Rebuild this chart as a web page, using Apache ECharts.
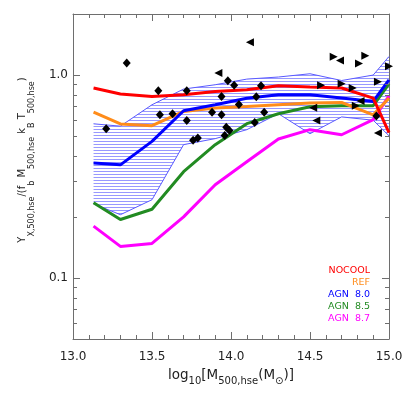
<!DOCTYPE html>
<html>
<head>
<meta charset="utf-8">
<script src="https://cdn.jsdelivr.net/npm/echarts@6/dist/echarts.min.js"></script>
<style>
  html, body { margin: 0; padding: 0; background: #fff; }
  #main { width: 407px; height: 398px; }
</style>
</head>
<body>
<div id="main"></div>
<script>
  // median mass bins (log10 M500)
  const massBins = [13.13, 13.3, 13.5, 13.7, 13.9, 14.1, 14.3, 14.5, 14.7, 14.9, 15.0]
  const nocool = [0.863, 0.806, 0.785, 0.80, 0.83, 0.847, 0.885, 0.873, 0.863, 0.77, 0.52]
  const ref = [0.657, 0.574, 0.563, 0.662, 0.688, 0.70, 0.714, 0.728, 0.733, 0.637, 0.77]
  const agn80 = [0.369, 0.361, 0.471, 0.667, 0.714, 0.769, 0.80, 0.80, 0.77, 0.741, 0.948]
  const agn85 = [0.235, 0.194, 0.218, 0.334, 0.454, 0.576, 0.645, 0.698, 0.706, 0.706, 0.906]
  const agn87 = [0.18, 0.143, 0.148, 0.20, 0.288, 0.374, 0.484, 0.538, 0.508, 0.603, 0.79]
  // scatter band of AGN 8.0
  const bandHi = [0.575, 0.56, 0.714, 0.853, 0.896, 0.955, 0.978, 1.015, 0.94, 1.0, 1.235]
  const bandLo = [0.232, 0.205, 0.243, 0.454, 0.486, 0.538, 0.645, 0.514, 0.622, 0.599, 0.502]

  // observed clusters
  const diamondMass = [13.21, 13.34, 13.54, 13.55, 13.63, 13.72, 13.72, 13.76, 13.79, 13.88, 13.94, 13.94,
    13.97, 13.99, 13.96, 13.98, 14.02, 14.05, 14.19, 14.16, 14.21, 14.15, 14.92]
  const diamondY = [0.544, 1.146, 0.837, 0.637, 0.645, 0.837, 0.597, 0.477, 0.49, 0.656, 0.785, 0.637,
    0.553, 0.533, 0.504, 0.937, 0.891, 0.717, 0.886, 0.782, 0.656, 0.584, 0.628]
  const rightTriMass = [14.65, 14.81, 14.85, 15.0, 14.57, 14.70, 14.77, 14.93, 14.79]
  const rightTriY = [1.231, 1.14, 1.245, 1.105, 0.891, 0.906, 0.863, 0.927, 0.706]
  const leftTriMass = [13.92, 14.12, 14.69, 14.52, 14.82, 14.54, 14.93]
  const leftTriY = [1.023, 1.45, 1.18, 0.69, 0.745, 0.597, 0.518]

  const xTicks = [13.0, 13.5, 14.0, 14.5, 15.0]
  const yMinorTicks = [0.06, 0.07, 0.08, 0.09, 0.2, 0.3, 0.4, 0.5, 0.6, 0.7, 0.8, 0.9]

  const legendNames = ['NOCOOL', 'REF', 'AGN  8.0', 'AGN  8.5', 'AGN  8.7']
  const legendColors = ['#ff0000', '#ff8c1a', '#0000ff', '#228b22', '#ff00ff']

  const axisColor = '#6e6e6e'
  const textColor = '#222'
  const fontFamily = 'DejaVu Sans'

  // horizontal hatch pattern
  const hatch = document.createElement('canvas')
  hatch.width = 4
  hatch.height = 3
  const hctx = hatch.getContext('2d')
  hctx.fillStyle = '#9898ff'
  hctx.fillRect(0, 0, 4, 1)

  const pairs = (xs, ys) => xs.map((x, i) => [x, ys[i]])

  const xAxisBase = (position, show) => ({
    type: 'value',
    position: position,
    min: xTicks[0],
    max: xTicks[xTicks.length - 1],
    interval: 0.5,
    axisLine: { show: true, onZero: false, lineStyle: { color: axisColor, width: 1 } },
    axisTick: { show: true, inside: true, length: 7, lineStyle: { color: axisColor } },
    minorTick: { show: true, splitNumber: 5, length: 4, lineStyle: { color: axisColor } },
    splitLine: { show: false },
    axisLabel: {
      show: show,
      margin: 12,
      fontSize: 12,
      fontFamily: fontFamily,
      color: textColor,
      formatter: v => v.toFixed(1)
    }
  })

  const yAxisBase = (position, show) => ({
    type: 'log',
    logBase: 10,
    position: position,
    min: 0.05,
    max: 2,
    axisLine: { show: true, onZero: false, lineStyle: { color: axisColor, width: 1 } },
    axisTick: { show: true, inside: true, length: 7, lineStyle: { color: axisColor } },
    splitLine: { show: false },
    axisLabel: {
      show: show,
      margin: 5,
      fontSize: 12,
      fontFamily: fontFamily,
      color: textColor,
      showMinLabel: false,
      showMaxLabel: false,
      formatter: v => v.toFixed(1)
    }
  })

  const modelLine = (name, values, color) => ({
    name: name,
    type: 'line',
    data: pairs(massBins, values),
    symbol: 'none',
    lineStyle: { color: color, width: 3 },
    z: 3
  })

  const outline = (values) => ({
    type: 'line',
    data: pairs(massBins, values),
    symbol: 'none',
    silent: true,
    lineStyle: { color: '#5a5aff', width: 1 },
    z: 2
  })

  const obsPoints = (xs, ys, symbol, size, rotate) => ({
    type: 'scatter',
    data: pairs(xs, ys),
    symbol: symbol,
    symbolSize: size,
    symbolRotate: rotate,
    itemStyle: { color: '#000', opacity: 1 },
    z: 5
  })

  const myChart = echarts.init(document.getElementById('main'), null, { renderer: 'canvas' })

  const option = {
    animation: false,
    backgroundColor: '#fff',
    grid: { left: 73, right: 18, top: 14, bottom: 59, containLabel: false },
    xAxis: [xAxisBase('bottom', true), xAxisBase('top', false)],
    yAxis: [yAxisBase('left', true), yAxisBase('right', false)],
    graphic: [
      {
        type: 'text',
        x: 231,
        y: 377.6,
        silent: true,
        style: {
          text: '{m|log}{s|10}{m|[M}{s|500,hse}{m|(M}{s|\u2299}{m|)]}',
          align: 'center',
          verticalAlign: 'middle',
          textAlign: 'center',
          textVerticalAlign: 'middle',
          fill: textColor,
          rich: {
            m: { fontSize: 13.5, fontFamily: fontFamily, lineHeight: 18, verticalAlign: 'top', fill: textColor, color: textColor },
            s: { fontSize: 10, fontFamily: fontFamily, lineHeight: 10, padding: [8, 0, 0, 0], verticalAlign: 'top', fill: textColor, color: textColor }
          }
        }
      },
      {
        type: 'text',
        x: 24.5,
        y: 160,
        rotation: Math.PI / 2,
        silent: true,
        style: {
          text: '{m|Y}{s|X,500,hse}{m|/(f}{s|b}{m| M}{s|500,hse}{m| k}{s|B}{m| T}{s|500,hse}{m|)}',
          align: 'center',
          verticalAlign: 'middle',
          textAlign: 'center',
          textVerticalAlign: 'middle',
          fill: textColor,
          rich: {
            m: { fontSize: 10, fontFamily: fontFamily, lineHeight: 14, verticalAlign: 'top', fill: textColor, color: textColor },
            s: { fontSize: 8, fontFamily: fontFamily, lineHeight: 8, padding: [10, 0, 0, 0], verticalAlign: 'top', fill: textColor, color: textColor }
          }
        }
      }
    ].concat(legendNames.map((n, i) => ({
      type: 'text',
      x: 370,
      y: 271 + i * 11.8,
      silent: true,
      style: {
        text: n,
        fill: legendColors[i],
        fontSize: 9.5,
        fontFamily: fontFamily,
        align: 'right',
        verticalAlign: 'middle',
        textAlign: 'right',
        textVerticalAlign: 'middle'
      }
    }))),
    series: [
      {
        // hatched range
        type: 'custom',
        silent: true,
        z: 1,
        data: massBins.map((m, i) => [m, bandLo[i], bandHi[i]]),
        encode: { x: 0, y: [1, 2] },
        renderItem: (params, api) => {
          if (params.dataIndex !== 0) return
          const top = massBins.map((m, i) => api.coord([m, bandHi[i]]))
          const bot = massBins.map((m, i) => api.coord([m, bandLo[i]])).reverse()
          return {
            type: 'polygon',
            shape: { points: top.concat(bot) },
            style: { fill: { image: hatch, repeat: 'repeat' }, stroke: null }
          }
        }
      },
      outline(bandHi),
      outline(bandLo),
      modelLine('AGN 8.7', agn87, legendColors[4]),
      modelLine('AGN 8.5', agn85, legendColors[3]),
      modelLine('REF', ref, legendColors[1]),
      modelLine('AGN 8.0', agn80, legendColors[2]),
      modelLine('NOCOOL', nocool, legendColors[0]),
      obsPoints(diamondMass, diamondY, 'diamond', [8, 9], 0),
      obsPoints(rightTriMass, rightTriY, 'triangle', 8, -90),
      obsPoints(leftTriMass, leftTriY, 'triangle', 8, 90),
      {
        // minor ticks on the log axis
        type: 'custom',
        silent: true,
        clip: false,
        z: 6,
        data: yMinorTicks.map(v => [xTicks[0], v]),
        renderItem: (params, api) => {
          const p = api.coord([api.value(0), api.value(1)])
          const cs = params.coordSys
          const y = Math.round(p[1]) + 0.5
          return {
            type: 'group',
            children: [
              { type: 'line', shape: { x1: cs.x, y1: y, x2: cs.x + 4, y2: y }, style: { stroke: axisColor, lineWidth: 1 } },
              { type: 'line', shape: { x1: cs.x + cs.width - 4, y1: y, x2: cs.x + cs.width, y2: y }, style: { stroke: axisColor, lineWidth: 1 } }
            ]
          }
        }
      }
    ]
  }

  myChart.setOption(option)
</script>
</body>
</html>
